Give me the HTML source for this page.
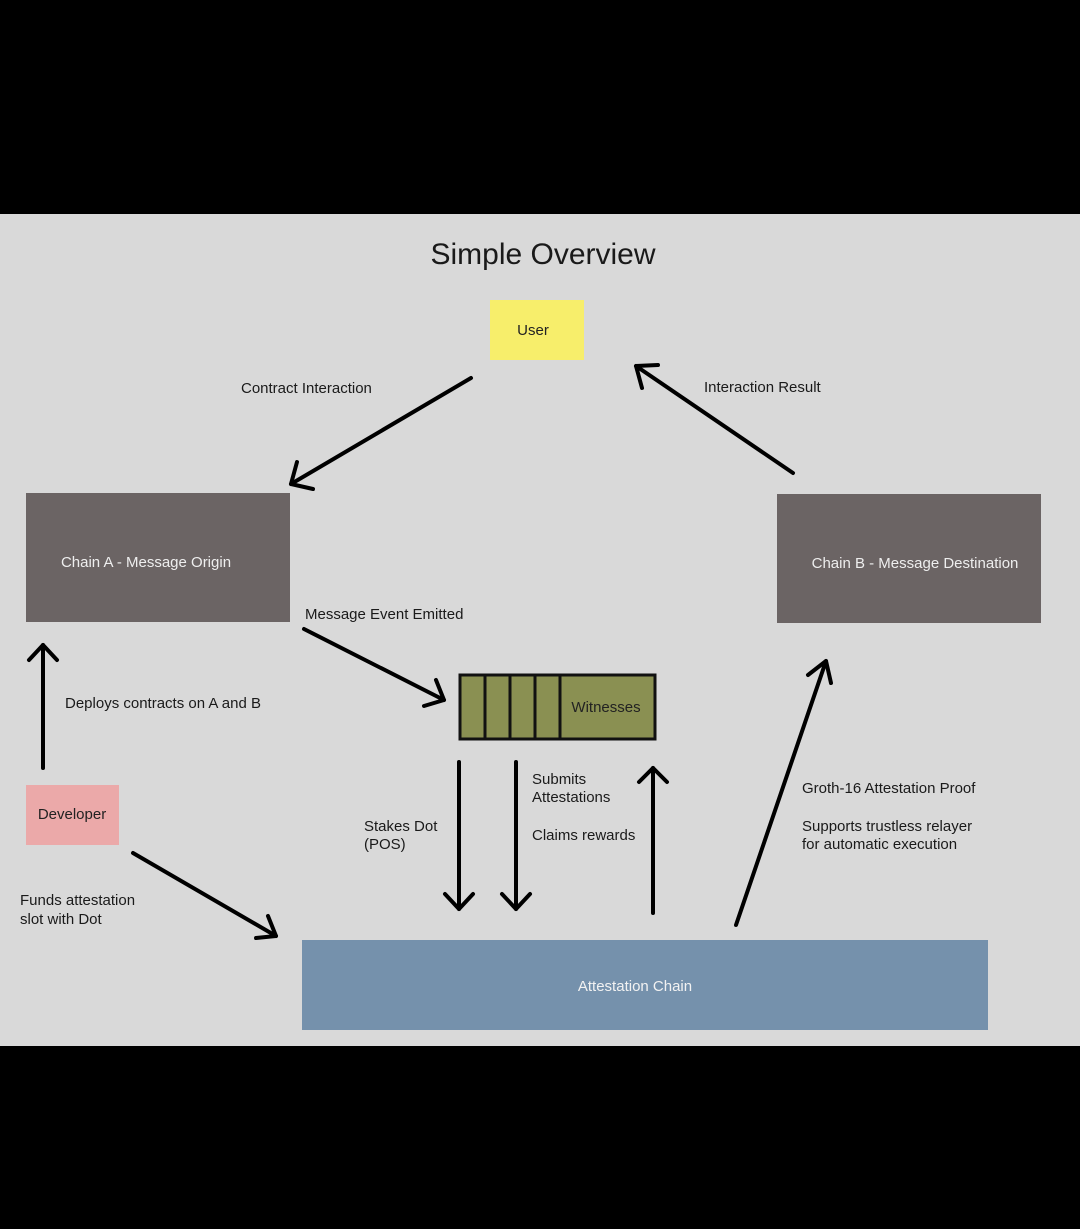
<!DOCTYPE html>
<html><head><style>
html,body{margin:0;padding:0;background:#000;}
svg{display:block;}
text{font-family:"Liberation Sans",sans-serif;}
</style></head><body>
<svg width="1080" height="1229" viewBox="0 0 1080 1229" xmlns="http://www.w3.org/2000/svg">
<rect x="0" y="0" width="1080" height="1229" fill="#000"/>
<rect x="0" y="214" width="1080" height="832" fill="#d9d9d9"/>
<text x="543" y="264" font-size="30" text-anchor="middle" fill="#1a1a1a">Simple Overview</text>

<rect x="490" y="300" width="94" height="60" fill="#f7ee6b"/>
<text x="533" y="335" font-size="15" text-anchor="middle" fill="#222">User</text>

<rect x="26" y="493" width="264" height="129" fill="#6b6464"/>
<text x="146" y="567" font-size="15" text-anchor="middle" fill="#eee">Chain A - Message Origin</text>
<rect x="777" y="494" width="264" height="129" fill="#6b6464"/>
<text x="915" y="568" font-size="15" text-anchor="middle" fill="#eee">Chain B - Message Destination</text>

<rect x="26" y="785" width="93" height="60" fill="#eba9a9"/>
<text x="72" y="819" font-size="15" text-anchor="middle" fill="#222">Developer</text>

<rect x="460" y="675" width="195" height="64" fill="#8a9052" stroke="#111" stroke-width="3"/>
<g stroke="#111" stroke-width="3">
<line x1="485" y1="675" x2="485" y2="739"/><line x1="510" y1="675" x2="510" y2="739"/>
<line x1="535" y1="675" x2="535" y2="739"/><line x1="560" y1="675" x2="560" y2="739"/>
</g>
<text x="606" y="712" font-size="15" text-anchor="middle" fill="#222">Witnesses</text>

<rect x="302" y="940" width="686" height="90" fill="#7591ac"/>
<text x="635" y="991" font-size="15" text-anchor="middle" fill="#f2f2f2">Attestation Chain</text>

<g font-size="15" fill="#1a1a1a">
<text x="241" y="393">Contract Interaction</text>
<text x="704" y="392">Interaction Result</text>
<text x="305" y="619">Message Event Emitted</text>
<text x="65" y="708">Deploys contracts on A and B</text>
<text x="20" y="905">Funds attestation</text>
<text x="20" y="924">slot with Dot</text>
<text x="364" y="831">Stakes Dot</text>
<text x="364" y="849">(POS)</text>
<text x="532" y="784">Submits</text>
<text x="532" y="802">Attestations</text>
<text x="532" y="840">Claims rewards</text>
<text x="802" y="793">Groth-16 Attestation Proof</text>
<text x="802" y="831">Supports trustless relayer</text>
<text x="802" y="849">for automatic execution</text>
</g>

<g stroke="#000" stroke-width="4" fill="none" stroke-linecap="round" stroke-linejoin="round">
<line x1="471" y1="378" x2="291" y2="484"/><polyline points="297,462 291,484 313,489"/>
<line x1="793" y1="473" x2="636" y2="366"/><polyline points="642,388 636,366 658,365"/>
<line x1="304" y1="629" x2="444" y2="700"/><polyline points="424,706 444,700 436,680"/>
<line x1="43" y1="768" x2="43" y2="645"/><polyline points="29,660 43,645 57,660"/>
<line x1="133" y1="853" x2="276" y2="936"/><polyline points="256,938 276,936 268,916"/>
<line x1="459" y1="762" x2="459" y2="909"/><polyline points="445,894 459,909 473,894"/>
<line x1="516" y1="762" x2="516" y2="909"/><polyline points="502,894 516,909 530,894"/>
<line x1="653" y1="913" x2="653" y2="768"/><polyline points="639,782 653,768 667,782"/>
<line x1="736" y1="925" x2="826" y2="661"/><polyline points="808,675 826,661 831,683"/>
</g>
</svg>
</body></html>
